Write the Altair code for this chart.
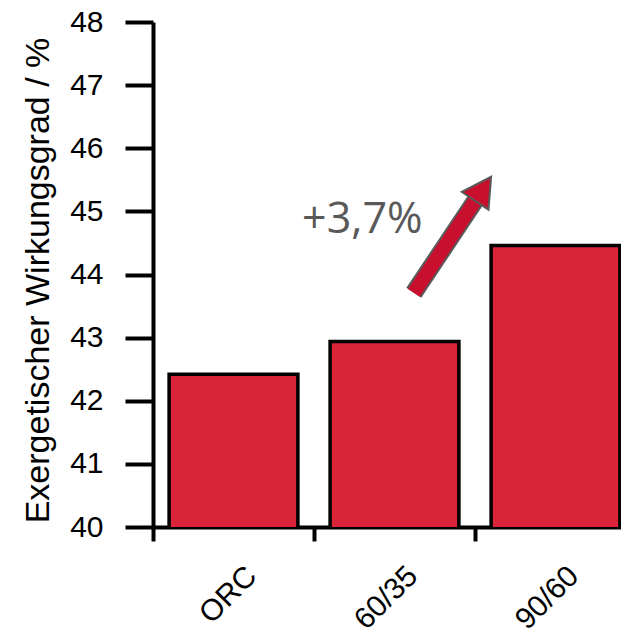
import altair as alt
import pandas as pd

# ---- data ----
categories = ["ORC", "60/35", "90/60"]
values = [42.42, 42.94, 44.46]
y_ticks = [40, 40.5, 41, 41.5, 42, 42.5, 43, 43.5, 44, 44.5, 45, 45.5, 46, 46.5, 47, 47.5, 48]
y_title = "Exergetischer Wirkungsgrad / %"

# annotation (in data space: x = band index units 0..3, y = axis value)
arrow_x = [1.62, 2.009]
arrow_y = [43.71, 45.198]
head_x = [2.045]
head_y = [45.336]
note_text = ["+3,7%"]
note_x = [1.30]
note_y = [44.865]

FONT = "Liberation Sans"
BAR = "#DA2439"
ARROW = "#C8102E"
GREY = "#595959"
X_RANGE = [0, 483]

bars_df = pd.DataFrame({"cat": categories, "y": values})
arrow_df = pd.DataFrame({"ax": arrow_x, "y": arrow_y, "o": [0, 1]})
head_df = pd.DataFrame({"ax": head_x, "y": head_y})
note_df = pd.DataFrame({"ax": note_x, "y": note_y, "t": note_text})

y_scale = alt.Scale(domain=[40, 48], nice=False, zero=False)
y_axis = alt.Axis(
    values=y_ticks,
    format="d",
    labelExpr="datum.value % 1 === 0 ? format(datum.value, 'd') : ''",
    tickSize={"condition": {"test": "datum.value % 1 === 0", "value": 28}, "value": 14},
    tickWidth=4, tickColor="black",
    domainColor="black", domainWidth=4,
    labelFont=FONT, labelFontSize=30, labelColor="black", labelPadding=22,
    title=y_title, titleFont=FONT, titleFontSize=34, titleFontWeight="normal",
    titleColor="black", titlePadding=14, titleY=258, grid=False,
)
Y = alt.Y("y:Q", scale=y_scale, axis=y_axis)

qx = alt.X("ax:Q", scale=alt.Scale(domain=[0, 3], nice=False, zero=False, range=X_RANGE), axis=None)

bars = alt.Chart(bars_df).mark_bar(
    fill=BAR, stroke="black", strokeWidth=3.5, width=alt.RelativeBandSize(0.8), clip=True
).encode(
    x=alt.X("cat:N", sort=categories,
            scale=alt.Scale(paddingInner=0, paddingOuter=0, range=X_RANGE),
            axis=alt.Axis(title=None, tickBand="extent", tickSize=14, tickWidth=4,
                          tickColor="black", domainColor="black", domainWidth=4,
                          labelAngle=-45, labelAlign="right", labelBaseline="middle",
                          labelFont=FONT, labelFontSize=30, labelColor="black",
                          labelPadding=30, labelOffset=18, grid=False)),
    y=Y,
)

shaft_border = alt.Chart(arrow_df).mark_line(
    color=GREY, strokeWidth=18, strokeCap="butt"
).encode(x=qx, y=Y, order="o:Q")

shaft = alt.Chart(arrow_df).mark_line(
    color=ARROW, strokeWidth=14, strokeCap="butt"
).encode(x=qx, y=Y, order="o:Q")

head = alt.Chart(head_df).mark_point(
    shape="M0,-1L1,0.8L-1,0.8Z", size=1024, angle=33.6,
    filled=True, fill=ARROW, stroke=GREY, strokeWidth=2, opacity=1
).encode(x=qx, y=Y)

note = alt.Chart(note_df).mark_text(
    font="Open Sans", fontSize=43, color=GREY
).encode(x=qx, y=Y, text="t:N")

chart = alt.layer(bars, shaft_border, shaft, head, note).resolve_scale(
    x="independent"
).resolve_axis(x="independent").properties(
    width=468, height=505,
    autosize=alt.AutoSizeParams(type="none"),
    padding={"left": 145, "top": 14, "right": 0, "bottom": 106},
    background="white",
).configure_view(stroke=None)

chart.save("out.html", embed_options={"renderer": "svg", "actions": False})
